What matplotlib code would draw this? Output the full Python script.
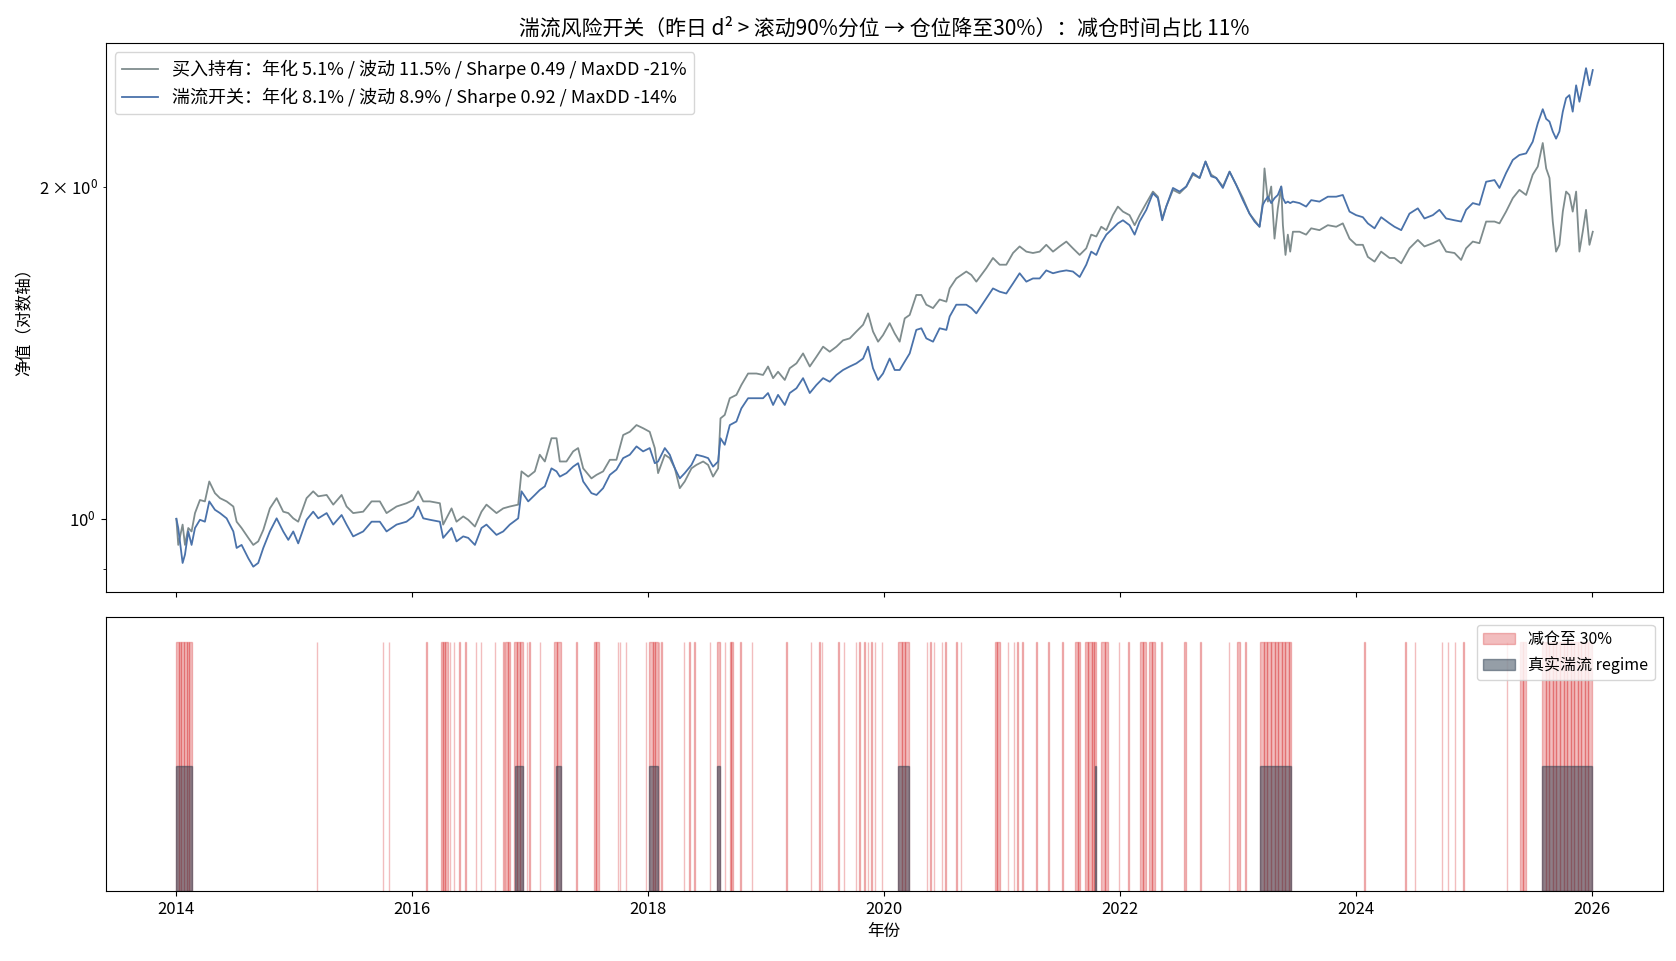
import numpy as np
import matplotlib
matplotlib.use("Agg")
import matplotlib.pyplot as plt

plt.rcParams['font.family'] = ['Noto Sans CJK SC', 'DejaVu Sans']
plt.rcParams['font.size'] = 12
plt.rcParams['axes.unicode_minus'] = False

t = [
    2014.000, 2014.016, 2014.053, 2014.073, 2014.101, 2014.129, 2014.158, 2014.200, 2014.242, 2014.279,
    2014.327, 2014.370, 2014.426, 2014.483, 2014.511, 2014.553, 2014.610, 2014.652, 2014.694, 2014.737,
    2014.793, 2014.850, 2014.906, 2014.949, 2014.991, 2015.033, 2015.104, 2015.160, 2015.203, 2015.274,
    2015.330, 2015.401, 2015.443, 2015.499, 2015.584, 2015.655, 2015.725, 2015.782, 2015.867, 2015.951,
    2016.008, 2016.050,
    2016.093, 2016.149, 2016.234, 2016.262, 2016.333, 2016.375, 2016.432, 2016.474, 2016.531, 2016.587,
    2016.629, 2016.714, 2016.771, 2016.827, 2016.898, 2016.926, 2016.983, 2017.039, 2017.081, 2017.124,
    2017.180, 2017.223, 2017.251, 2017.307, 2017.364, 2017.406, 2017.449, 2017.519, 2017.562, 2017.618,
    2017.675, 2017.731, 2017.788, 2017.844, 2017.901, 2017.957, 2018.013,
    2018.056, 2018.084, 2018.141, 2018.183, 2018.226, 2018.268, 2018.310, 2018.367, 2018.409, 2018.466,
    2018.508, 2018.550, 2018.593, 2018.613, 2018.649, 2018.692, 2018.748, 2018.790, 2018.847, 2018.918,
    2018.974, 2019.016, 2019.059, 2019.101, 2019.158, 2019.200, 2019.257, 2019.313, 2019.370, 2019.426,
    2019.483, 2019.539, 2019.596, 2019.652, 2019.709, 2019.765, 2019.822, 2019.864, 2019.906, 2019.949,
    2019.991, 2020.047, 2020.090,
    2020.132, 2020.175, 2020.217, 2020.273, 2020.316, 2020.358, 2020.415, 2020.471, 2020.528, 2020.556,
    2020.612, 2020.697, 2020.740, 2020.782, 2020.824, 2020.867, 2020.923, 2020.980, 2021.036, 2021.093,
    2021.149, 2021.206, 2021.262, 2021.319, 2021.375, 2021.432, 2021.488, 2021.545, 2021.601, 2021.658,
    2021.714, 2021.756, 2021.799, 2021.841, 2021.884, 2021.940, 2021.982, 2022.025,
    2022.081, 2022.124, 2022.166, 2022.223, 2022.279, 2022.321, 2022.358, 2022.392, 2022.449, 2022.505,
    2022.562, 2022.618, 2022.675, 2022.725, 2022.773, 2022.816, 2022.872, 2022.929, 2022.985, 2023.042,
    2023.098, 2023.141, 2023.183, 2023.211, 2023.225, 2023.254, 2023.282, 2023.310, 2023.338, 2023.367,
    2023.381, 2023.403, 2023.423, 2023.443, 2023.466, 2023.522, 2023.578, 2023.621, 2023.691, 2023.762,
    2023.833, 2023.889, 2023.946, 2024.002, 2024.059, 2024.101,
    2024.158, 2024.214, 2024.285, 2024.327, 2024.384, 2024.454, 2024.525, 2024.581, 2024.652, 2024.708,
    2024.765, 2024.836, 2024.892, 2024.934, 2024.991, 2025.047, 2025.104, 2025.175, 2025.217, 2025.273,
    2025.330, 2025.386, 2025.443, 2025.499, 2025.542, 2025.584, 2025.613, 2025.641, 2025.669, 2025.697,
    2025.725, 2025.754, 2025.782, 2025.810, 2025.838, 2025.867, 2025.895, 2025.923, 2025.951, 2025.980,
    2026.008,
]

buy_hold = [
    1.000, 0.947, 0.988, 0.947, 0.981, 0.974, 1.012, 1.040, 1.037, 1.081,
    1.055, 1.044, 1.037, 1.026, 0.994, 0.981, 0.961, 0.947, 0.954, 0.977,
    1.022, 1.044, 1.015, 1.012, 1.001, 0.994, 1.044, 1.059, 1.048, 1.051,
    1.030, 1.051, 1.026, 1.012, 1.015, 1.037, 1.037, 1.012, 1.026, 1.033,
    1.040, 1.059,
    1.037, 1.037, 1.033, 0.988, 1.022, 0.994, 1.005, 0.998, 0.984, 1.015,
    1.030, 1.012, 1.022, 1.026, 1.030, 1.104, 1.092, 1.104, 1.143, 1.127,
    1.183, 1.183, 1.127, 1.127, 1.151, 1.159, 1.111, 1.088, 1.096, 1.104,
    1.131, 1.131, 1.191, 1.199, 1.216, 1.208, 1.199,
    1.159, 1.100, 1.143, 1.135, 1.111, 1.066, 1.081, 1.111, 1.119, 1.127,
    1.119, 1.092, 1.111, 1.233, 1.242, 1.286, 1.295, 1.322, 1.354, 1.354,
    1.350, 1.374, 1.341, 1.359, 1.336, 1.369, 1.383, 1.412, 1.374, 1.402,
    1.432, 1.417, 1.432, 1.451, 1.457, 1.478, 1.499, 1.535, 1.478, 1.447,
    1.467, 1.504, 1.472,
    1.447, 1.519, 1.530, 1.595, 1.595, 1.563, 1.552, 1.580, 1.573, 1.617,
    1.651, 1.675, 1.663, 1.640, 1.663, 1.687, 1.723, 1.699, 1.699, 1.741,
    1.765, 1.746, 1.741, 1.746, 1.771, 1.746, 1.765, 1.783, 1.758, 1.734,
    1.758, 1.809, 1.802, 1.839, 1.826, 1.884, 1.918, 1.898,
    1.884, 1.845, 1.884, 1.932, 1.979, 1.958, 1.871, 1.918, 1.986, 1.972,
    2.000, 2.050, 2.036, 2.107, 2.050, 2.036, 2.000, 2.063, 2.007, 1.952,
    1.890, 1.864, 1.839, 1.938, 2.077, 1.938, 2.000, 1.794, 1.911, 2.000,
    1.845, 1.734, 1.809, 1.746, 1.820, 1.820, 1.809, 1.833, 1.826, 1.845,
    1.839, 1.852, 1.794, 1.771, 1.771, 1.727,
    1.710, 1.746, 1.723, 1.723, 1.704, 1.758, 1.789, 1.765, 1.777, 1.789,
    1.746, 1.741, 1.716, 1.758, 1.783, 1.777, 1.859, 1.859, 1.852, 1.898,
    1.952, 1.986, 1.965, 2.050, 2.085, 2.190, 2.077, 2.036, 1.859, 1.746,
    1.771, 1.898, 1.979, 1.965, 1.898, 1.979, 1.746, 1.820, 1.905, 1.771,
    1.820,
]

switch = [
    1.000, 0.981, 0.912, 0.928, 0.974, 0.947, 0.981, 0.998, 0.994, 1.037,
    1.019, 1.012, 1.001, 0.974, 0.941, 0.947, 0.921, 0.905, 0.912, 0.941,
    0.974, 1.001, 0.974, 0.957, 0.974, 0.950, 0.998, 1.015, 1.001, 1.012,
    0.988, 1.008, 0.988, 0.964, 0.974, 0.994, 0.994, 0.974, 0.988, 0.994,
    1.005, 1.026,
    1.001, 0.998, 0.994, 0.961, 0.981, 0.954, 0.964, 0.961, 0.947, 0.981,
    0.988, 0.967, 0.974, 0.988, 1.001, 1.059, 1.037, 1.051, 1.062, 1.070,
    1.111, 1.104, 1.092, 1.100, 1.115, 1.123, 1.081, 1.055, 1.051, 1.066,
    1.096, 1.108, 1.135, 1.143, 1.163, 1.151, 1.159,
    1.123, 1.127, 1.159, 1.143, 1.111, 1.088, 1.100, 1.119, 1.143, 1.139,
    1.135, 1.115, 1.127, 1.183, 1.167, 1.216, 1.225, 1.259, 1.286, 1.286,
    1.286, 1.300, 1.268, 1.295, 1.268, 1.300, 1.313, 1.341, 1.300, 1.322,
    1.341, 1.331, 1.350, 1.364, 1.374, 1.383, 1.397, 1.432, 1.369, 1.336,
    1.354, 1.397, 1.364,
    1.364, 1.388, 1.412, 1.483, 1.488, 1.457, 1.447, 1.488, 1.483, 1.525,
    1.563, 1.563, 1.552, 1.535, 1.559, 1.584, 1.617, 1.606, 1.600, 1.634,
    1.669, 1.640, 1.651, 1.651, 1.679, 1.669, 1.675, 1.679, 1.675, 1.656,
    1.699, 1.746, 1.734, 1.777, 1.809, 1.833, 1.852, 1.864,
    1.845, 1.809, 1.859, 1.905, 1.972, 1.952, 1.864, 1.918, 1.994, 1.979,
    2.000, 2.057, 2.036, 2.107, 2.043, 2.036, 1.994, 2.063, 2.007, 1.944,
    1.890, 1.859, 1.839, 1.925, 1.938, 1.958, 1.932, 1.952, 1.965, 2.000,
    1.952, 1.932, 1.938, 1.932, 1.938, 1.932, 1.918, 1.944, 1.938, 1.958,
    1.958, 1.965, 1.898, 1.884, 1.876, 1.852,
    1.833, 1.876, 1.852, 1.839, 1.826, 1.890, 1.911, 1.871, 1.884, 1.905,
    1.871, 1.864, 1.859, 1.905, 1.932, 1.925, 2.020, 2.027, 1.994, 2.057,
    2.114, 2.136, 2.143, 2.196, 2.282, 2.350, 2.303, 2.290, 2.243, 2.210,
    2.243, 2.338, 2.405, 2.420, 2.338, 2.470, 2.387, 2.470, 2.560, 2.470,
    2.550,
]

# periods with exposure cut to 30% (start, end in decimal years)
cut_start = [
    2014.00, 2014.02, 2014.04, 2014.065, 2014.09, 2014.11,
    2015.19, 2015.75, 2015.80, 2016.12,
    2016.24, 2016.26, 2016.28, 2016.32, 2016.35, 2016.40, 2016.45, 2016.54, 2016.58, 2016.70,
    2016.77, 2016.79, 2016.81, 2016.86, 2016.885, 2016.91, 2016.97, 2016.99, 2017.08,
    2017.20, 2017.23, 2017.39, 2017.54, 2017.56, 2017.74, 2017.76, 2017.81,
    2017.98, 2018.01, 2018.04, 2018.06, 2018.09, 2018.11,
    2018.30, 2018.35, 2018.39, 2018.52, 2018.58, 2018.65, 2018.69, 2018.705, 2018.78, 2018.88,
    2019.17, 2019.38, 2019.45, 2019.47, 2019.61, 2019.66, 2019.76, 2019.79, 2019.83, 2019.86,
    2019.89, 2019.92, 2019.98,
    2020.12, 2020.15, 2020.18, 2020.36, 2020.39, 2020.42, 2020.49, 2020.52, 2020.61, 2020.65,
    2020.94, 2020.96, 2021.05, 2021.10, 2021.13, 2021.17, 2021.29, 2021.39, 2021.51,
    2021.62, 2021.64, 2021.70, 2021.73, 2021.76, 2021.78, 2021.84, 2021.87, 2021.99,
    2022.07, 2022.17, 2022.195, 2022.25, 2022.275, 2022.35, 2022.54, 2022.68, 2022.92, 2022.99, 2023.06,
    2023.19, 2023.22, 2023.25, 2023.28, 2023.31, 2023.34, 2023.37, 2023.40, 2023.43,
    2024.07, 2024.42, 2024.50, 2024.73, 2024.78, 2024.84, 2024.91, 2025.28, 2025.39, 2025.415,
    2025.58, 2025.61, 2025.64, 2025.67, 2025.70, 2025.73, 2025.76, 2025.79, 2025.82, 2025.85,
    2025.88, 2025.91, 2025.94, 2025.97,
]
cut_end = [
    2014.02, 2014.04, 2014.065, 2014.09, 2014.11, 2014.13,
    2015.19, 2015.75, 2015.80, 2016.12,
    2016.26, 2016.28, 2016.30, 2016.32, 2016.35, 2016.40, 2016.45, 2016.54, 2016.58, 2016.70,
    2016.77, 2016.81, 2016.83, 2016.885, 2016.91, 2016.94, 2016.97, 2016.99, 2017.08,
    2017.23, 2017.26, 2017.39, 2017.56, 2017.58, 2017.74, 2017.76, 2017.81,
    2017.98, 2018.04, 2018.06, 2018.08, 2018.09, 2018.11,
    2018.30, 2018.35, 2018.39, 2018.52, 2018.61, 2018.65, 2018.705, 2018.72, 2018.78, 2018.88,
    2019.17, 2019.38, 2019.45, 2019.47, 2019.61, 2019.66, 2019.76, 2019.79, 2019.83, 2019.86,
    2019.89, 2019.92, 2019.98,
    2020.15, 2020.18, 2020.21, 2020.36, 2020.39, 2020.42, 2020.49, 2020.52, 2020.61, 2020.65,
    2020.96, 2020.98, 2021.05, 2021.10, 2021.13, 2021.17, 2021.29, 2021.39, 2021.51,
    2021.64, 2021.66, 2021.73, 2021.76, 2021.78, 2021.80, 2021.87, 2021.90, 2021.99,
    2022.07, 2022.195, 2022.22, 2022.275, 2022.30, 2022.35, 2022.56, 2022.68, 2022.92, 2023.02, 2023.06,
    2023.22, 2023.25, 2023.28, 2023.31, 2023.34, 2023.37, 2023.40, 2023.43, 2023.45,
    2024.07, 2024.42, 2024.50, 2024.73, 2024.78, 2024.84, 2024.91, 2025.28, 2025.415, 2025.44,
    2025.61, 2025.64, 2025.67, 2025.70, 2025.73, 2025.76, 2025.79, 2025.82, 2025.85, 2025.88,
    2025.91, 2025.94, 2025.97, 2026.00,
]

# true turbulent regime periods
regime_start = [2014.00, 2016.87, 2017.22, 2018.01, 2018.58, 2020.12, 2021.785, 2023.19, 2025.58]
regime_end = [2014.13, 2016.94, 2017.26, 2018.08, 2018.61, 2020.21, 2021.795, 2023.45, 2026.00]

fig, (ax1, ax2) = plt.subplots(
    2, 1, figsize=(16.76, 9.61), dpi=100, sharex=True,
    gridspec_kw={"height_ratios": [2, 1], "hspace": 0.061,
                 "left": 0.063, "right": 0.992, "top": 0.955, "bottom": 0.073},
)

ax1.plot(t, buy_hold, color="#7f8c8d", lw=1.3,
         label="买入持有：年化 5.1% / 波动 11.5% / Sharpe 0.49 / MaxDD -21%")
ax1.plot(t, switch, color="#4a72aa", lw=1.3,
         label="湍流开关：年化 8.1% / 波动 8.9% / Sharpe 0.92 / MaxDD -14%")
ax1.set_yscale("log")
ax1.set_ylabel("净值（对数轴）")
ax1.set_title("湍流风险开关（昨日 d² > 滚动90%分位 → 仓位降至30%）：减仓时间占比 11%", fontsize=15)
ax1.legend(loc="upper left", fontsize=13)

min_w = 0.004
cs = np.array(cut_start)
cw = np.maximum(np.array(cut_end) - cs, min_w)
ax2.bar(cs, 1.0, width=cw, align="edge", color="#d62728", alpha=0.3,
        edgecolor="#d62728", linewidth=1, label="减仓至 30%")
rs = np.array(regime_start)
rw = np.maximum(np.array(regime_end) - rs, min_w)
ax2.bar(rs, 0.5, width=rw, align="edge", color="#2c3e50", alpha=0.5,
        edgecolor="#2c3e50", linewidth=1, label="真实湍流 regime")
ax2.set_ylim(0, 1.1)
ax2.set_yticks([])
ax2.set_xlim(2013.4, 2026.6)
ax2.set_xticks([2014, 2016, 2018, 2020, 2022, 2024, 2026])
ax2.set_xlabel("年份")
ax2.legend(loc="upper right", fontsize=11.5)

plt.savefig("out.png", dpi=100)
